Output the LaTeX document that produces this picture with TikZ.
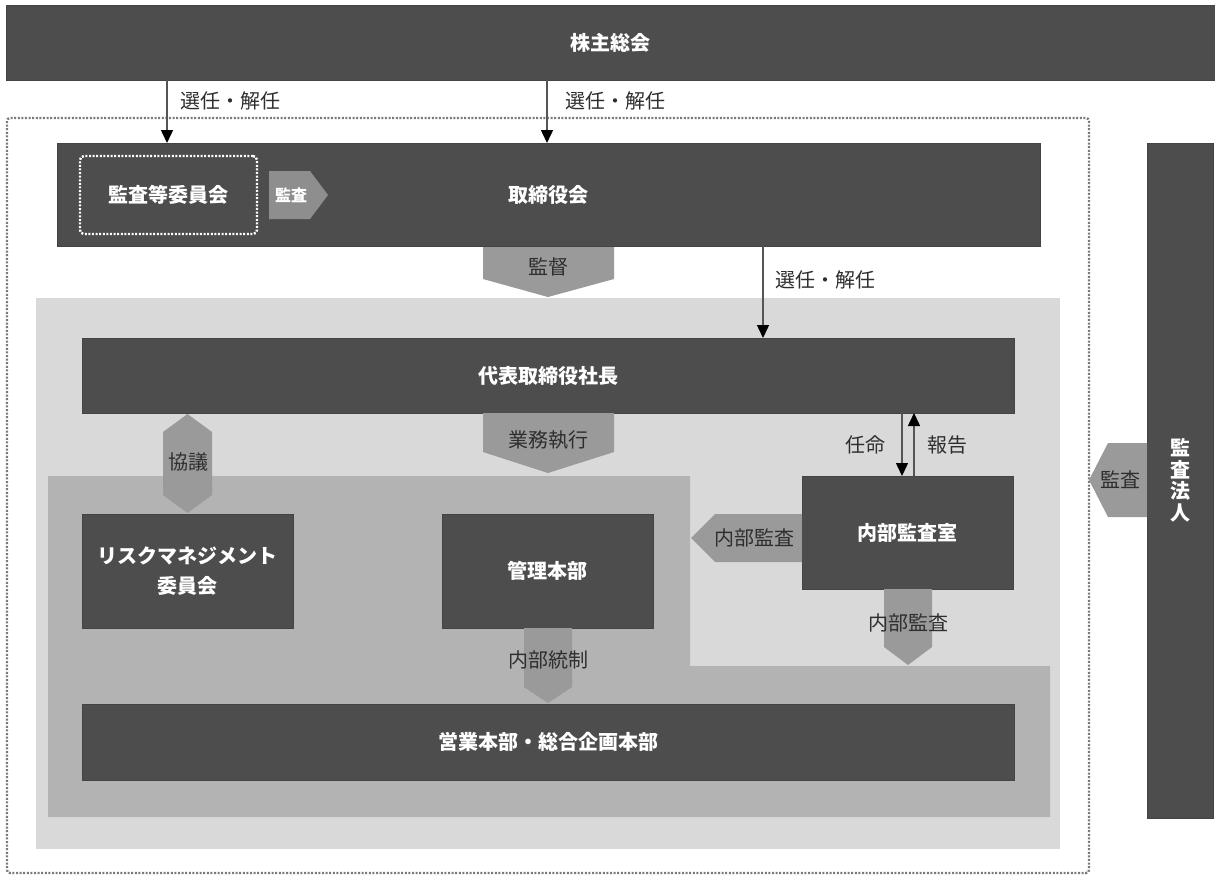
\documentclass[tikz,border=0pt]{standalone}
\usepackage{fontspec}
\setmainfont{Noto Sans CJK JP}
\usetikzlibrary{arrows.meta,calc}
\definecolor{dk}{HTML}{4D4D4D}
\definecolor{dkline}{HTML}{444444}
\definecolor{arr}{HTML}{9A9A9A}
\definecolor{arrdk}{HTML}{8E8E8E}
\definecolor{midreg}{HTML}{B3B3B3}
\definecolor{lightreg}{HTML}{D9D9D9}
\definecolor{tx}{HTML}{2E2E2E}
\definecolor{ln}{HTML}{555555}
\definecolor{dots}{HTML}{7A7A7A}
\begin{document}
\begin{tikzpicture}[x=1pt,y=-1pt,
  box/.style={fill=dk, draw=dkline, line width=0.8pt, text=white,
    font=\fontsize{20}{30}\selectfont\bfseries, inner sep=0pt, outer sep=0pt, align=center},
  lbl/.style={text=tx, font=\fontsize{20}{22}\selectfont, inner sep=0pt},
  fat/.style={fill=arr, draw=none},
  thinarrow/.style={draw=ln, line width=1.5pt, -{Triangle[width=12pt,length=13pt,color=black]}}]
\useasboundingbox (0,0) rectangle (1215,875);
\fill[white] (0,0) rectangle (1215,875);
% regions
\fill[lightreg] (36,298) rectangle (1060,849);
\fill[midreg] (48,476) -- (690,476) -- (690,666) -- (1050,666) -- (1050,817) -- (48,817) -- cycle;
\draw[dots, line width=2.4pt, dash pattern=on 2pt off 1.6pt, rounded corners=3pt] (7,118) rectangle (1089,873);
% boxes
\node[box, minimum width=1209pt, minimum height=75pt] (top) at (610.5,42.5) {株主総会};
\node[box, minimum width=983pt, minimum height=103pt] (board) at (548.5,194.5) {};
\node[text=white, font=\fontsize{20}{22}\selectfont\bfseries, inner sep=0pt] (boardt) at (548,195) {取締役会};
\node[draw=white, line width=2.4pt, dash pattern=on 2pt off 1.6pt, rounded corners=4pt,
  minimum width=177pt, minimum height=78pt, text=white, font=\fontsize{20}{22}\selectfont\bfseries, inner sep=0pt] (audit) at (168.5,195) {監査等委員会};
\node[box, minimum width=932pt, minimum height=75pt] (pres) at (548,375.5) {代表取締役社長};
\node[box, minimum width=211pt, minimum height=114pt] (risk) at (187.5,571) {リスクマネジメント\\委員会};
\node[box, minimum width=211pt, minimum height=114pt] (kanri) at (547.5,571) {管理本部};
\node[box, minimum width=211pt, minimum height=113pt] (naibu) at (907.5,532.5) {内部監査室};
\node[box, minimum width=932pt, minimum height=76pt] (eigyo) at (548,742) {営業本部・総合企画本部};
\node[box, minimum width=66pt, minimum height=675pt, font=\fontsize{20}{21.5}\selectfont\bfseries] (houjin) at (1180,480.5) {監\\査\\法\\人};
% fat arrows
\fill[arrdk] (269,171) -- (310,171) -- (328,195) -- (310,219) -- (269,219) -- cycle;
\node[text=white, font=\fontsize{16}{18}\selectfont\bfseries, inner sep=0pt] (fa1) at (291,195) {監査};
\fill[fat] (483,247) -- (614,247) -- (614,279) -- (548,297) -- (483,279) -- cycle;
\node[lbl] (fa2) at (548,267) {監督};
\fill[fat] (483,413) -- (614,413) -- (614,452) -- (548,473) -- (483,452) -- cycle;
\node[lbl] (fa3) at (548,440) {業務執行};
\fill[fat] (187.5,414) -- (212,432) -- (212,495) -- (187.5,513) -- (163,495) -- (163,432) -- cycle;
\node[lbl] (fa4) at (188,462) {協議};
\fill[fat] (524,628) -- (572,628) -- (572,687) -- (548,703) -- (524,687) -- cycle;
\node[lbl] (fa5) at (548,660) {内部統制};
\fill[fat] (802,514) -- (715,514) -- (691,538) -- (715,562) -- (802,562) -- cycle;
\node[lbl] (fa6) at (754,538) {内部監査};
\fill[fat] (884,589) -- (932,589) -- (932,647) -- (908,665) -- (884,647) -- cycle;
\node[lbl] (fa7) at (908,623) {内部監査};
\fill[fat] (1147,443) -- (1108,443) -- (1089,480) -- (1108,517) -- (1147,517) -- cycle;
\node[lbl] (fa8) at (1120,480) {監査};
% thin arrows
\coordinate (x1) at (167,0);
\coordinate (x2) at (547,0);
\coordinate (x3) at (763,0);
\coordinate (x4) at (902,0);
\coordinate (x5) at (914,0);
\draw[thinarrow] (top.south -| x1) -- (board.north -| x1);
\draw[thinarrow] (top.south -| x2) -- (board.north -| x2);
\draw[thinarrow] (board.south -| x3) -- (pres.north -| x3);
\draw[thinarrow] (pres.south -| x4) -- (naibu.north -| x4);
\draw[thinarrow] (naibu.north -| x5) -- (pres.south -| x5);
\node[lbl, anchor=west] (l1) at (180,101) {選任・解任};
\node[lbl, anchor=west] (l2) at (565,101) {選任・解任};
\node[lbl, anchor=west] (l3) at (775,280) {選任・解任};
\node[lbl] (l4) at (865,445) {任命};
\node[lbl] (l5) at (947,445) {報告};
\end{tikzpicture}
\end{document}
